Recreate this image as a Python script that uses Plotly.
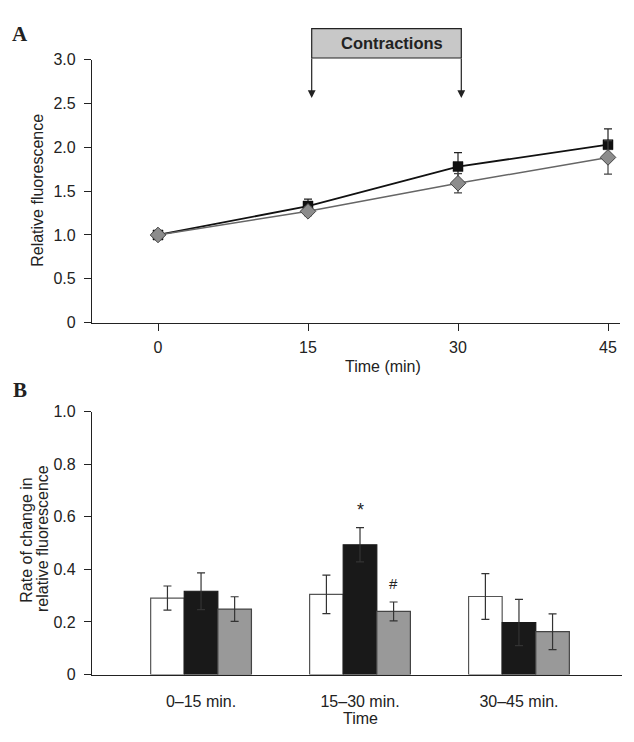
import plotly.graph_objects as go

# page body has an 8px margin; the figure is sized so the whole page fits the window
OFF = 8
W, H = 634 - OFF, 742 - 2 * OFF

# ---- Panel A data ----
time_min = [0, 15, 30, 45]
sq_mean = [1.00, 1.33, 1.78, 2.03]
sq_err = [0.02, 0.08, 0.16, 0.18]
dm_mean = [1.00, 1.27, 1.59, 1.885]
dm_err = [0.02, 0.05, 0.11, 0.19]
a_yticks = [0, 0.5, 1.0, 1.5, 2.0, 2.5, 3.0]
a_yticklabels = ["0", "0.5", "1.0", "1.5", "2.0", "2.5", "3.0"]

# ---- Panel B data ----
periods = ["0–15 min.", "15–30 min.", "30–45 min."]
white_vals = [0.291, 0.305, 0.297]
white_err = [0.046, 0.073, 0.087]
black_vals = [0.317, 0.494, 0.198]
black_err = [0.070, 0.065, 0.088]
gray_vals = [0.249, 0.240, 0.163]
gray_err = [0.047, 0.036, 0.068]
b_yticks = [0, 0.2, 0.4, 0.6, 0.8, 1.0]
b_yticklabels = ["0", "0.2", "0.4", "0.6", "0.8", "1.0"]

FONT = "Liberation Sans, Arial, sans-serif"
SERIF = "Liberation Serif, Times New Roman, serif"
TXT = "#222222"
FS = 16

def px(x):
    return (x - OFF) / W

def py(y):
    return 1 - (y - OFF) / H

fig = go.Figure()

fig.add_trace(go.Scatter(
    x=time_min, y=sq_mean, mode="lines+markers",
    line=dict(color="#111111", width=1.8),
    marker=dict(symbol="square", size=10, color="#111111", line=dict(color="#111111", width=0.5)),
    error_y=dict(type="data", array=sq_err, color="#222222", thickness=1.2, width=4),
    xaxis="x", yaxis="y", showlegend=False))
fig.add_trace(go.Scatter(
    x=time_min, y=dm_mean, mode="lines+markers",
    line=dict(color="#666666", width=1.5),
    marker=dict(symbol="diamond", size=12, color="#8c8c8c", line=dict(color="#444444", width=1)),
    error_y=dict(type="data", array=dm_err, color="#444444", thickness=1.2, width=4),
    xaxis="x", yaxis="y", showlegend=False))

idx = list(range(len(periods)))
fig.add_trace(go.Bar(
    x=idx, y=white_vals, marker=dict(color="#ffffff", line=dict(color="#555555", width=1.2)),
    error_y=dict(type="data", array=white_err, color="#333333", thickness=1.2, width=4),
    xaxis="x2", yaxis="y2", showlegend=False))
fig.add_trace(go.Bar(
    x=idx, y=black_vals, marker=dict(color="#191919", line=dict(color="#191919", width=1.2)),
    error_y=dict(type="data", array=black_err, color="#333333", thickness=1.2, width=4),
    xaxis="x2", yaxis="y2", showlegend=False))
fig.add_trace(go.Bar(
    x=idx, y=gray_vals, marker=dict(color="#999999", line=dict(color="#444444", width=1.2)),
    error_y=dict(type="data", array=gray_err, color="#333333", thickness=1.2, width=4),
    xaxis="x2", yaxis="y2", showlegend=False))

axis_common = dict(showgrid=False, zeroline=False, showline=True, linecolor="#222222",
                   linewidth=1.2, tickfont=dict(family=FONT, size=FS, color=TXT))

fig.update_layout(
    width=W, height=H, margin=dict(l=0, r=0, t=0, b=0),
    paper_bgcolor="white", plot_bgcolor="white",
    barmode="group", bargap=0.366, bargroupgap=0,
    xaxis=dict(domain=[px(92), px(620)], range=[-6.6, 46.2], anchor="y",
               tickvals=time_min, ticks="outside", ticklen=7, tickcolor="#222222",
               ticklabelstandoff=3, **axis_common),
    yaxis=dict(domain=[py(322), py(52.7)], range=[0, 3.0], anchor="x",
               tickvals=a_yticks, ticktext=a_yticklabels, ticks="outside", ticklen=7,
               tickcolor="#222222", ticklabelstandoff=5, **axis_common),
    xaxis2=dict(domain=[px(92), px(621.5)], range=[-0.686, 2.645], anchor="y2",
                tickvals=idx, ticktext=periods, ticks="", ticklabelstandoff=12,
                **axis_common),
    yaxis2=dict(domain=[py(682.3), py(413.3)], range=[0, 1.0], anchor="x2",
                tickvals=b_yticks, ticktext=b_yticklabels, ticks="outside", ticklen=7,
                tickcolor="#222222", ticklabelstandoff=5, **axis_common),
)

# "Contractions" box and arrows
fig.add_shape(type="rect", xref="paper", yref="paper",
              x0=px(311.7), x1=px(461.3), y0=py(51), y1=py(21),
              fillcolor="#c8c8c8", line=dict(color="#222222", width=1.2), layer="above")
for ax_x in (311.7, 461.3):
    fig.add_annotation(xref="paper", yref="paper", x=px(ax_x), y=py(92), ax=0, ay=-41,
                       text="", showarrow=True, arrowhead=2, arrowsize=1.3,
                       arrowwidth=1.2, arrowcolor="#222222")

annots = [
    dict(x=px(391.7), y=py(36), text="<b>Contractions</b>", size=16.5, family=FONT, angle=0),
    dict(x=px(20), y=py(26), text="<b>A</b>", size=21, family=SERIF, angle=0),
    dict(x=px(20), y=py(391), text="<b>B</b>", size=21, family=SERIF, angle=0),
    dict(x=px(38), y=py(187), text="Relative fluorescence", size=FS, family=FONT, angle=-90),
    dict(x=px(26.3), y=py(545), text="Rate of change in", size=FS, family=FONT, angle=-90),
    dict(x=px(42.5), y=py(543), text="relative fluorescence", size=FS, family=FONT, angle=-90),
    dict(x=px(383), y=py(366.5), text="Time (min)", size=FS, family=FONT, angle=0),
    dict(x=px(360), y=py(727), text="Time", size=FS, family=FONT, angle=0),
]
for a in annots:
    fig.add_annotation(xref="paper", yref="paper", x=a["x"], y=a["y"], text=a["text"],
                       showarrow=False, textangle=a["angle"], xanchor="center", yanchor="middle",
                       font=dict(family=a["family"], size=a["size"], color=TXT))

# significance marks
fig.add_annotation(xref="x2", yref="y2", x=1, y=0.625, text="*", showarrow=False,
                   font=dict(family=FONT, size=18, color=TXT), yanchor="middle")
fig.add_annotation(xref="x2", yref="y2", x=1.211, y=0.346, text="#", showarrow=False,
                   font=dict(family=FONT, size=15, color=TXT), yanchor="middle")

fig.write_html("out.html")
